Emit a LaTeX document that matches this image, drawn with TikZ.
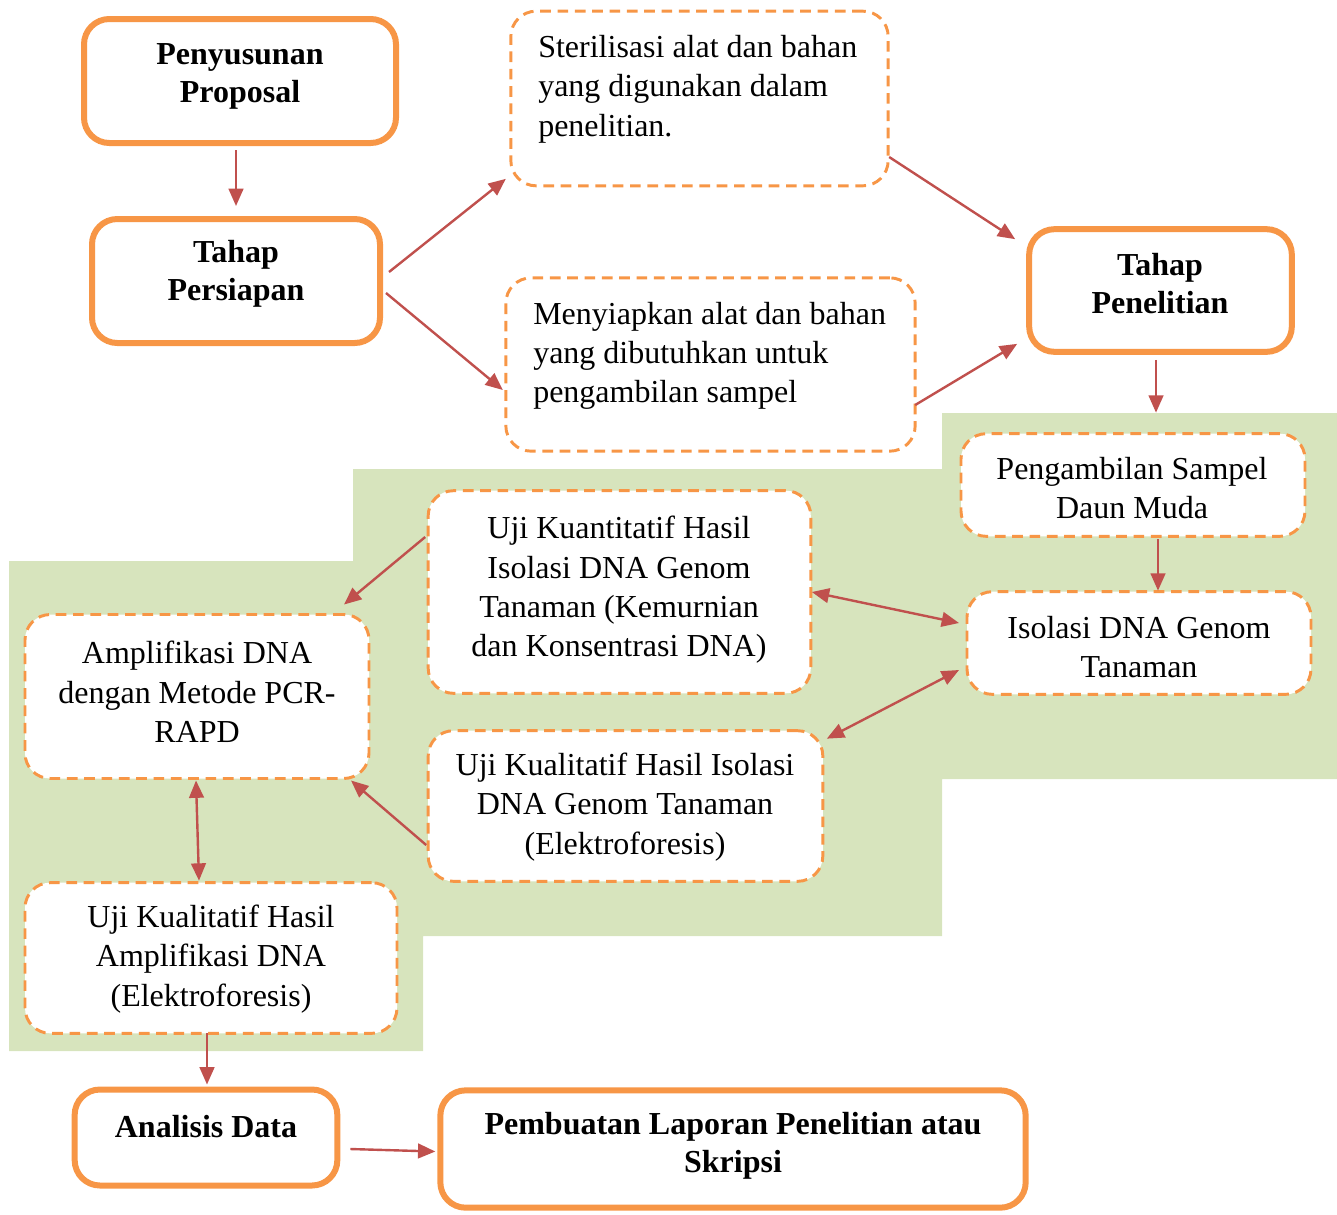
\documentclass[tikz,border=0pt]{standalone}
\usepackage{fontspec}
\setmainfont{Liberation Serif}
\usetikzlibrary{arrows.meta}
\definecolor{orng}{HTML}{F79646}
\definecolor{arrc}{HTML}{C0504D}
\definecolor{grn}{HTML}{D7E4BD}
\begin{document}
\begin{tikzpicture}[x=0.75pt,y=-0.75pt,
  solidbox/.style={draw=orng,line width=4.5pt,rounded corners=19pt,fill=white,inner sep=0pt,outer sep=0pt},
  dashbox/.style={draw=orng,line width=2.2pt,dash pattern=on 8pt off 5pt,rounded corners=19pt,fill=white,inner sep=0pt,outer sep=0pt},
  txt/.style={font=\fontsize{24}{29.5}\selectfont,align=center,inner sep=0pt},
  btxt/.style={font=\fontsize{24}{28.5}\selectfont\bfseries,align=center,inner sep=0pt},
  arr/.style={draw=arrc,line width=1.8pt,-{Triangle[length=13pt,width=11pt]}},
  darr/.style={draw=arrc,line width=1.8pt,{Triangle[length=13pt,width=11pt]}-{Triangle[length=13pt,width=11pt]}}]
\useasboundingbox (0,0) rectangle (1337,1214);
% green background
\fill[grn] (9,561) -- (353,561) -- (353,469) -- (942,469) -- (942,413) -- (1337,413) -- (1337,779) -- (942,779) -- (942,936) -- (423,936) -- (423,1051) -- (9,1051) -- cycle;
% boxes
\node[solidbox,minimum width=234pt,minimum height=93pt] (prop) at (240,81) {};
\node[solidbox,minimum width=216pt,minimum height=93pt] (pers) at (236,281) {};
\node[dashbox,minimum width=283pt,minimum height=131pt] (ster) at (699.5,98.5) {};
\node[dashbox,minimum width=307pt,minimum height=130pt] (meny) at (710.5,364.5) {};
\node[solidbox,minimum width=197pt,minimum height=92pt] (pen) at (1160.5,290.5) {};
\node[dashbox,minimum width=258pt,minimum height=77pt] (samp) at (1133,485) {};
\node[dashbox,minimum width=258pt,minimum height=77pt] (iso) at (1139,643) {};
\node[dashbox,minimum width=287pt,minimum height=152pt] (kuan) at (619.5,592) {};
\node[dashbox,minimum width=296pt,minimum height=113pt] (kual) at (625.5,806) {};
\node[dashbox,minimum width=258pt,minimum height=123pt] (amp) at (197,696.5) {};
\node[dashbox,minimum width=279pt,minimum height=113pt] (kamp) at (211,958) {};
\node[solidbox,minimum width=197pt,minimum height=72pt] (ana) at (206,1137.5) {};
\node[solidbox,minimum width=439pt,minimum height=88pt] (lap) at (733,1149) {};
% texts
\node[btxt] (t1) at (240,76) {Penyusunan\\Proposal};
\node[btxt] (t2) at (236,274) {Tahap\\Persiapan};
\node[txt,align=left,anchor=west] (t3) at (538,89) {Sterilisasi alat dan bahan\\yang digunakan dalam\\penelitian.};
\node[txt,align=left,anchor=west] (t4) at (533,356) {Menyiapkan alat dan bahan\\yang dibutuhkan untuk\\pengambilan sampel};
\node[btxt] (t5) at (1160,284) {Tahap\\Penelitian};
\node[txt] (t6) at (1132,488) {Pengambilan Sampel\\Daun Muda};
\node[txt] (t7) at (1139,647) {Isolasi DNA Genom\\Tanaman};
\node[txt] (t8) at (619,590) {Uji Kuantitatif Hasil\\Isolasi DNA Genom\\Tanaman (Kemurnian\\dan Konsentrasi DNA)};
\node[txt] (t9) at (625,807) {Uji Kualitatif Hasil Isolasi\\DNA Genom Tanaman\\(Elektroforesis)};
\node[txt] (t10) at (197,692) {Amplifikasi DNA\\dengan Metode PCR-\\RAPD};
\node[txt] (t11) at (211,959) {Uji Kualitatif Hasil\\Amplifikasi DNA\\(Elektroforesis)};
\node[btxt] (t12) at (206,1127) {Analisis Data};
\node[btxt] (t13) at (733,1146) {Pembuatan Laporan Penelitian atau\\Skripsi};
% arrows
\draw[arr] ([shift={(-4,7)}]prop.south) -- ([shift={(0,-13)}]pers.north);
\draw[arr] ([shift={(9,-9)}]pers.east) -- ([shift={(-5,-7)}]ster.south west);
\draw[arr] ([shift={(6,12)}]pers.east) -- ([shift={(-3,25.5)}]meny.west);
\draw[arr] ([shift={(1,58.5)}]ster.east) -- ([shift={(-14,10)}]pen.north west);
\draw[arr] ([shift={(0,40.5)}]meny.east) -- ([shift={(-12,-8)}]pen.south west);
\draw[arr] ([shift={(-4.5,8)}]pen.south) -- ([shift={(23,-21)}]samp.north);
\draw[arr] ([shift={(25,3)}]samp.south) -- ([shift={(19,-1)}]iso.north);
\draw[darr] ([shift={(1,0)}]kuan.east) -- ([shift={(-8,-20)}]iso.west);
\draw[darr] ([shift={(4,8)}]kual.north east) -- ([shift={(-8,27)}]iso.west);
\draw[arr] ([shift={(-3,-55)}]kuan.west) -- ([shift={(-25,-10)}]amp.north east);
\draw[arr] ([shift={(-2,39)}]kual.west) -- ([shift={(-18,2)}]amp.south east);
\draw[darr] ([shift={(-1,2)}]amp.south) -- ([shift={(-12,-2)}]kamp.north);
\draw[arr] ([shift={(-4,0)}]kamp.south) -- ([shift={(1,-5)}]ana.north);
\draw[arr] ([shift={(13,11.5)}]ana.east) -- ([shift={(-5,2.5)}]lap.west);
\end{tikzpicture}
\end{document}
